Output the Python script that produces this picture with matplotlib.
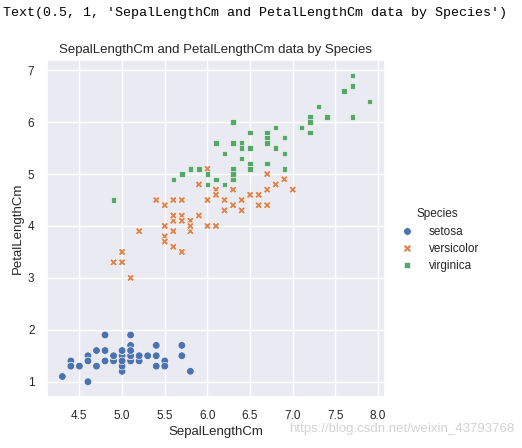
import numpy as np
import pandas as pd
import matplotlib
matplotlib.use('Agg')
import matplotlib.pyplot as plt
import seaborn as sns

# iris: SepalLengthCm / PetalLengthCm per species
setosa_sepal = [5.1,4.9,4.7,4.6,5.0,5.4,4.6,5.0,4.4,4.9,5.4,4.8,4.8,4.3,5.8,5.7,5.4,5.1,5.7,5.1,
                5.4,5.1,4.6,5.1,4.8,5.0,5.0,5.2,5.2,4.7,4.8,5.4,5.2,5.5,4.9,5.0,5.5,4.9,4.4,5.1,
                5.0,4.5,4.4,5.0,5.1,4.8,5.1,4.6,5.3,5.0]
setosa_petal = [1.4,1.4,1.3,1.5,1.4,1.7,1.4,1.5,1.4,1.5,1.5,1.6,1.4,1.1,1.2,1.5,1.3,1.4,1.7,1.5,
                1.7,1.5,1.0,1.7,1.9,1.6,1.6,1.5,1.4,1.6,1.6,1.5,1.5,1.4,1.5,1.2,1.3,1.5,1.3,1.5,
                1.3,1.3,1.3,1.6,1.9,1.4,1.6,1.4,1.5,1.4]
versicolor_sepal = [7.0,6.4,6.9,5.5,6.5,5.7,6.3,4.9,6.6,5.2,5.0,5.9,6.0,6.1,5.6,6.7,5.6,5.8,6.2,5.6,
                    5.9,6.1,6.3,6.1,6.4,6.6,6.8,6.7,6.0,5.7,5.5,5.5,5.8,6.0,5.4,6.0,6.7,6.3,5.6,5.5,
                    5.5,6.1,5.8,5.0,5.6,5.7,5.7,6.2,5.1,5.7]
versicolor_petal = [4.7,4.5,4.9,4.0,4.6,4.5,4.7,3.3,4.6,3.9,3.5,4.2,4.0,4.7,3.6,4.4,4.5,4.1,4.5,3.9,
                    4.8,4.0,4.9,4.7,4.3,4.4,4.8,5.0,4.5,3.5,3.8,3.7,3.9,5.1,4.5,4.5,4.7,4.4,4.1,4.0,
                    4.4,4.6,4.0,3.3,4.2,4.2,4.2,4.3,3.0,4.1]
virginica_sepal = [6.3,5.8,7.1,6.3,6.5,7.6,4.9,7.3,6.7,7.2,6.5,6.4,6.8,5.7,5.8,6.4,6.5,7.7,7.7,6.0,
                   6.9,5.6,7.7,6.3,6.7,7.2,6.2,6.1,6.4,7.2,7.4,7.9,6.4,6.3,6.1,7.7,6.3,6.4,6.0,6.9,
                   6.7,6.9,5.8,6.8,6.7,6.7,6.3,6.5,6.2,5.9]
virginica_petal = [6.0,5.1,5.9,5.6,5.8,6.6,4.5,6.3,5.8,6.1,5.1,5.3,5.5,5.0,5.1,5.3,5.5,6.7,6.9,5.0,
                   5.7,4.9,6.7,4.9,5.7,6.0,4.8,4.9,5.6,5.8,6.1,6.4,5.6,5.1,5.6,6.1,5.6,5.5,4.8,5.4,
                   5.6,5.1,5.1,5.9,5.7,5.2,5.0,5.2,5.4,5.1]
species_names = ['setosa', 'versicolor', 'virginica']

df = pd.DataFrame({
    'SepalLengthCm': setosa_sepal + versicolor_sepal + virginica_sepal,
    'PetalLengthCm': setosa_petal + versicolor_petal + virginica_petal,
    'Species': [species_names[0]] * len(setosa_sepal) + [species_names[1]] * len(versicolor_sepal)
               + [species_names[2]] * len(virginica_sepal),
})

sns.set_theme(style='darkgrid')
plt.rcParams['font.family'] = ['Liberation Sans', 'DejaVu Sans']

fig = plt.figure(figsize=(5.22, 4.48), dpi=100)
ax = fig.add_axes([0.090, 0.1138, 0.6475, 0.752])
sns.scatterplot(data=df, x='SepalLengthCm', y='PetalLengthCm', hue='Species', style='Species',
                s=30, ax=ax, legend='full')
ax.set_title('SepalLengthCm and PetalLengthCm data by Species', fontsize=9.5, color='#262626', pad=5)
ax.set_xlabel('SepalLengthCm', fontsize=9.5, color='#262626', labelpad=3)
ax.set_ylabel('PetalLengthCm', fontsize=9.5, color='#262626', labelpad=3)
ax.tick_params(labelsize=8.5, colors='#262626', pad=3)

handles, labels = ax.get_legend_handles_labels()
ax.legend(handles, labels, title='Species', loc='center left', bbox_to_anchor=(1.0, 0.465),
          frameon=False, fontsize=8.5, title_fontsize=8.5, handletextpad=0.8, labelspacing=0.45)

fig.text(0.006, 0.972, "Text(0.5, 1, 'SepalLengthCm and PetalLengthCm data by Species')",
         family='Liberation Mono', fontsize=9.6, va='center', ha='left', color='black')
fig.text(0.985, 0.042, 'https://blog.csdn.net/weixin_43793768', fontsize=9.5, ha='right', va='center',
         color='#c8c8c8', alpha=0.8)

fig.savefig('out.png', dpi=100, facecolor='white')
